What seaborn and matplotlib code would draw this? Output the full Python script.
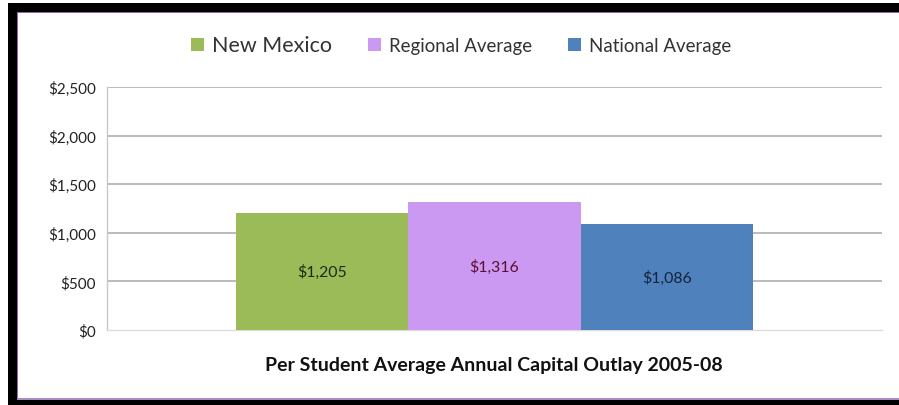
import matplotlib
matplotlib.use("Agg")
import matplotlib.pyplot as plt
from matplotlib.patches import Rectangle, Patch
import seaborn as sns
import pandas as pd

categories = ["New Mexico", "Regional Average", "National Average"]
values = [1205, 1316, 1086]
value_labels = ["$1,205", "$1,316", "$1,086"]
colors = ["#9BBB59", "#CC99F2", "#4F81BD"]
label_colors = ["#1e2a10", "#5a1030", "#14243c"]
yticks = [0, 500, 1000, 1500, 2000, 2500]
ytick_labels = ["$0", "$500", "$1,000", "$1,500", "$2,000", "$2,500"]
title = "Per Student Average Annual Capital Outlay 2005-08"

sns.set_theme(style="white")
plt.rcParams["font.family"] = ["Lato", "DejaVu Sans"]

W, H = 899, 406
fig = plt.figure(figsize=(W / 100, H / 100), dpi=100)
fig.patch.set_facecolor("white")

ax = fig.add_axes([107 / W, 1 - 331 / H, (882 - 107) / W, (331 - 88) / H])
df = pd.DataFrame({"category": categories, "value": values})
sns.barplot(data=df, x="category", y="value", hue="category",
            palette=colors, saturation=1, width=1.0, ax=ax, legend=False,
            edgecolor="none", linewidth=0, zorder=3)

ax.set_xlim(-1.25, 3.25)
ax.set_ylim(0, 2500)
ax.set_yticks(yticks)
ax.set_yticklabels(ytick_labels, fontsize=11, color="#222222")
ax.set_xticks([])
ax.set_xlabel("")
ax.set_ylabel("")
ax.tick_params(axis="y", length=0, pad=8)
for y in yticks[1:]:
    ax.axhline(y, color="#a8a8a8", linewidth=1.1, zorder=1)
for side in ["top", "right"]:
    ax.spines[side].set_visible(False)
ax.spines["left"].set_color("#c8c8c8")
ax.spines["left"].set_linewidth(1)
ax.spines["bottom"].set_color("#dcdcdc")
ax.spines["bottom"].set_linewidth(1)

for cont in ax.containers:
    for bar in cont:
        idx = int(round(bar.get_x() + bar.get_width() / 2))
        ax.text(bar.get_x() + bar.get_width() / 2, bar.get_height() / 2,
                value_labels[idx], ha="center", va="center",
                fontsize=11.4, color=label_colors[idx], zorder=4)

# Legend across the top
handles = [Patch(facecolor=c, edgecolor="none") for c in colors]
leg = fig.legend(handles, categories, loc="center", ncol=3,
                 bbox_to_anchor=(461 / W, 1 - 46 / H), frameon=False,
                 fontsize=13.4, handlelength=0.7, handleheight=0.7,
                 handletextpad=0.45, columnspacing=1.9)
for t in leg.get_texts():
    t.set_color("#333333")
leg.get_texts()[0].set_fontsize(15.5)

fig.text(494 / W, 1 - 366 / H, title, ha="center", va="center",
         fontsize=14, fontweight="bold", color="#111111")

# Outer frame
def frame_rect(x0, y0, x1, y1, color):
    fig.add_artist(Rectangle((x0 / W, 1 - y1 / H), (x1 - x0) / W, (y1 - y0) / H,
                             transform=fig.transFigure, facecolor=color,
                             edgecolor="none", zorder=10))

frame_rect(8, 4, W, 12.5, "#000000")
frame_rect(8, 4, 16.5, H, "#000000")
frame_rect(8, 400.5, W, H, "#000000")
frame_rect(16.5, 12.5, W, 13.8, "#8a6aa8")
frame_rect(16.5, 12.5, 17.8, 400.5, "#8a6aa8")
frame_rect(16.5, 399.2, W, 400.5, "#a98ac8")

fig.savefig("out.png", dpi=100)
